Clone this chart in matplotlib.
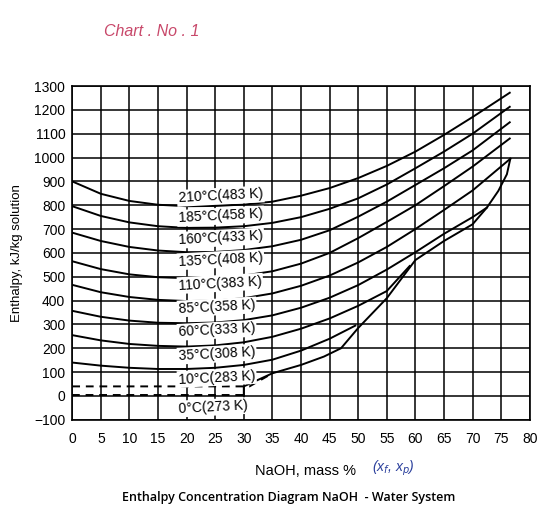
import numpy as np
import matplotlib.pyplot as plt

plt.rcParams['font.family'] = ['Liberation Sans', 'DejaVu Sans']

# NaOH mass % where the isotherms are read
x_iso = [0, 5, 10, 15, 20, 25, 30, 35, 40, 45, 50, 55, 60, 65, 70, 76.5]

# enthalpy kJ/kg
h210 = [900, 848, 818, 802, 796, 797, 803, 815, 840, 872, 914, 965, 1025, 1095, 1170, 1272]
h185 = [796, 755, 728, 712, 705, 706, 712, 726, 750, 785, 829, 887, 955, 1025, 1100, 1213]
h160 = [685, 650, 625, 610, 603, 604, 612, 628, 655, 695, 752, 815, 885, 955, 1030, 1148]
h135 = [565, 532, 510, 498, 494, 496, 505, 523, 555, 600, 662, 730, 800, 880, 962, 1080]
x110 = [0, 5, 10, 15, 20, 25, 30, 35, 40, 45, 50, 55, 60, 65, 70, 76.6]
h110 = [466, 435, 415, 403, 398, 400, 410, 430, 462, 505, 560, 625, 700, 780, 862, 995]
x85 = [0, 5, 10, 15, 20, 25, 30, 35, 40, 45, 50, 55, 60, 65, 70, 72.5]
h85 = [357, 332, 316, 307, 305, 308, 318, 338, 370, 412, 465, 530, 603, 680, 750, 790]
x60 = [0, 5, 10, 15, 20, 25, 30, 35, 40, 45, 50, 55, 59]
h60 = [255, 233, 218, 210, 207, 212, 225, 248, 282, 325, 378, 440, 545]
x35 = [0, 5, 10, 15, 20, 25, 30, 35, 40, 45, 49.5]
h35 = [140, 127, 118, 113, 113, 118, 130, 152, 190, 240, 295]
x10 = [0, 31, 35]
h10 = [40, 40, 95]
x0 = [0, 30]
h0 = [3, 3]

# boundary line on the right
x_bound = [30, 30, 35, 40, 44, 47, 50, 55, 60, 65, 70, 72.5, 74.5, 76, 76.6]
h_bound = [3, 40, 95, 130, 165, 200, 285, 410, 570, 650, 720, 790, 860, 930, 995]

labels = ['210°C(483 K)', '185°C(458 K)', '160°C(433 K)', '135°C(408 K)', '110°C(383 K)',
          '85°C(358 K)', '60°C(333 K)', '35°C(308 K)', '10°C(283 K)', '0°C(273 K)']
label_y = [812, 728, 636, 546, 446, 348, 250, 150, 52, -72]

fig = plt.figure(figsize=(5.6, 5.28), dpi=100)
ax = fig.add_axes([0.129, 0.205, 0.817, 0.632])

ax.set_xlim(0, 80)
ax.set_ylim(-100, 1300)
ax.set_xticks(np.arange(0, 81, 5))
ax.set_yticks(np.arange(-100, 1301, 100))
ax.grid(True, color='black', lw=1.1)
ax.set_axisbelow(True)
for s in ax.spines.values():
    s.set_linewidth(1.2)
ax.tick_params(labelsize=10, length=0)
ax.tick_params(axis='x', pad=9)
ax.tick_params(axis='y', pad=5)
ax.set_yticklabels([str(v).replace('-', '\u2212') for v in range(-100, 1301, 100)])

kw = dict(color='black', lw=1.4, zorder=3)
for h in [h210, h185, h160, h135]:
    ax.plot(x_iso, h, **kw)
ax.plot(x110, h110, **kw)
ax.plot(x85, h85, **kw)
ax.plot(x60, h60, **kw)
ax.plot(x35, h35, **kw)
ax.plot(x_bound, h_bound, **kw)
ax.plot(x10, h10, color='black', lw=1.4, ls=(0, (4, 3)), zorder=3)
ax.plot(x0, h0, color='black', lw=1.4, ls=(0, (4, 3)), zorder=3)

for lab, yy in zip(labels, label_y):
    ax.text(18.5, yy, lab, fontsize=10, rotation=3, zorder=4,
            bbox=dict(facecolor='white', edgecolor='none', pad=1))

ax.set_ylabel('Enthalpy, kJ/kg solution', fontsize=9.5, labelpad=8)
ax.set_xlabel('NaOH, mass %', fontsize=10.5)
ax.xaxis.set_label_coords(0.51, -0.132)
fig.text(0.665, 0.107, '(x$_f$, x$_p$)', color='#2a3f9c', fontsize=10, style='italic')
fig.text(0.185, 0.932, 'Chart . No . 1', color='#c8486a', fontsize=11.5, style='italic')
fig.text(0.515, 0.052, 'Enthalpy Concentration Diagram NaOH  - Water System',
         fontsize=9, ha='center', family=['Open Sans', 'DejaVu Sans'], weight='semibold')

fig.savefig('out.png', dpi=100)
